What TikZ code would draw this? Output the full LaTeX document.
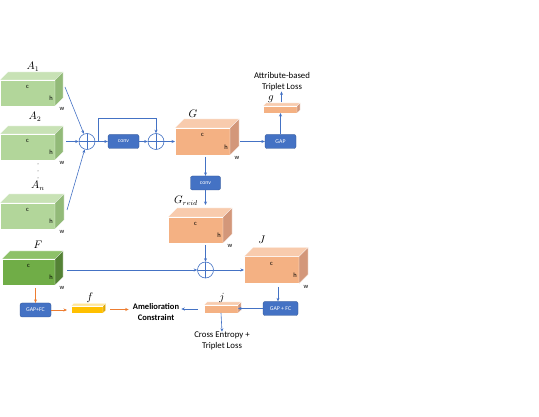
\documentclass[tikz,border=0pt]{standalone}
\usepackage{fontspec}
\setmainfont{Carlito}
\usetikzlibrary{arrows.meta}
\definecolor{blu}{HTML}{4472C4}
\definecolor{bluD}{HTML}{2F528F}
\definecolor{org}{HTML}{ED7D31}
\definecolor{grF}{HTML}{B2D69A}
\definecolor{grT}{HTML}{C8E2B5}
\definecolor{grS}{HTML}{92BA78}
\definecolor{dgF}{HTML}{70AD47}
\definecolor{dgT}{HTML}{8DC168}
\definecolor{dgS}{HTML}{548235}
\definecolor{orF}{HTML}{F4B183}
\definecolor{orT}{HTML}{F8CBAD}
\definecolor{orS}{HTML}{D3977A}
\definecolor{yeF}{HTML}{FFC000}
\definecolor{yeT}{HTML}{FFE699}
\definecolor{yeS}{HTML}{E0A800}
\newcommand{\cuboid}[7]{%
  \node[face, fill=#7F, minimum width=#4pt, minimum height=#5pt] (#1) at (#2,#3) {};
  \filldraw[fill=#7T, draw=white, line width=0.3pt] (#1.north west) -- ++(#6,-#6) -- ++(#4,0) -- (#1.north east) -- cycle;
  \filldraw[fill=#7S, draw=white, line width=0.3pt] (#1.north east) -- ++(#6,-#6) -- ++(0,#5) -- (#1.south east) -- cycle;
}
\newcommand{\chw}[1]{%
  \node[dim] (#1c) at ([yshift=-7pt]#1.north) {c};
  \node[dim] (#1h) at ([xshift=-4pt,yshift=8pt]#1.south east) {h};
  \node[dim] (#1w) at ([xshift=7pt,yshift=-3pt]#1.south east) {w};
}
\tikzset{
  face/.style={inner sep=0pt, outer sep=0pt, anchor=north west, draw=white, line width=0.3pt},
  dim/.style={font=\fontsize{6.5}{7}\selectfont, inner sep=0pt},
  lbl/.style={font=\fontsize{10.5}{12}\selectfont, inner sep=0pt},
  bbox/.style={fill=blu, draw=bluD, line width=0.3pt, rounded corners=2pt, text=white,
    font=\fontsize{5.8}{6}\selectfont, inner sep=0pt, minimum height=14pt},
  oplus/.style={circle, draw=blu, fill=white, line width=0.6pt, minimum size=16pt, inner sep=0pt,
    path picture={\draw[blu, line width=0.6pt] (path picture bounding box.north) -- (path picture bounding box.south)
      (path picture bounding box.west) -- (path picture bounding box.east);}},
  arr/.style={draw=blu, line width=0.6pt, -{Stealth[length=3.5pt,width=3pt]}},
  oarr/.style={draw=org, line width=0.6pt, -{Stealth[length=3.5pt,width=3pt]}},
  txt/.style={font=\fontsize{8.8}{11}\selectfont, align=center, inner sep=0pt},
}
\begin{document}
\begin{tikzpicture}[x=1pt, y=-1pt]
\useasboundingbox (0,0) rectangle (539,417);
% green inputs
\cuboid{a1}{0}{80}{55}{26}{8}{gr}\chw{a1}
\cuboid{a2}{0}{134}{55}{26}{8}{gr}\chw{a2}
\cuboid{an}{0}{203}{55}{26}{9}{gr}\chw{an}
\cuboid{fb}{2}{259}{53}{26}{8}{dg}\chw{fb}
\node[lbl] (la1) at (33,67) {$A_1$};
\node[lbl] (la2) at (35,117) {$A_2$};
\node[lbl] (lan) at (38,186) {$A_n$};
\node[lbl] (lf) at (38,245) {$F$};
\fill[black!70] (38,164) circle (0.5) (38,171) circle (0.5) (38,178) circle (0.5);
% top branch
\node[oplus] (p1) at (87,141.5) {};
\node[bbox, minimum width=31pt] (conv1) at (123.5,141.5) {conv};
\node[oplus] (p2) at (156,141.5) {};
\cuboid{G}{175}{128}{55}{27}{9}{or}\chw{G}
\node[lbl] (lG) at (193,114) {$G$};
\node[bbox, minimum width=31pt] (gap1) at (280.5,141.5) {GAP};
\cuboid{g}{263}{106}{34}{7}{3}{or}
\node[lbl] (lg) at (271,99) {$g$};
\node[txt] (atl) at (282,82) {Attribute-based\\Triplet Loss};
% middle
\node[bbox, minimum width=30pt] (conv2) at (205.5,183) {conv};
\cuboid{Gr}{168}{217}{55}{26}{9}{or}\chw{Gr}
\node[lbl] (lGr) at (186,201) {$G_{reid}$};
\node[oplus] (p3) at (205.5,270) {};
\cuboid{J}{244}{256.5}{55}{27}{9}{or}\chw{J}
\node[lbl] (lJ) at (262,240) {$J$};
% bottom row
\node[bbox, minimum width=35pt] (gap2) at (280.5,308.5) {GAP + FC};
\cuboid{jb}{204}{305}{34}{8}{3}{or}
\node[lbl] (lj) at (222,298) {$j$};
\node[txt] (ce) at (222,341) {Cross Entropy +\\Triplet Loss};
\node[txt, font=\fontsize{8.5}{11}\bfseries] (amel) at (156,312.5) {Amelioration\\Constraint};
\node[bbox, minimum width=31pt] (gapL) at (35.5,310) {GAP+FC};
\cuboid{fbar}{71}{306}{32}{7}{2.5}{ye}
\node[lbl] (lfb) at (90,298) {$f$};
% coordinates
\coordinate (a1o) at (65,87);
\coordinate (a2o) at (66,141.5);
\coordinate (ano) at (67,210);
\coordinate (skp) at (98,141.5);
\coordinate (skt) at (98,118);
\coordinate (Go) at (240,141.5);
\coordinate (Gb) at (205.5,157);
\coordinate (Gri) at (205.5,205);
\coordinate (Gro) at (205.5,245);
\coordinate (Fo) at (67,270);
\coordinate (Jo) at (278,287);
\coordinate (go) at (281.5,102);
\coordinate (Fb) at (35.5,288);
% connectors
\draw[arr] (a1o) -- (p1);
\draw[arr] (a2o) -- (p1);
\draw[arr] (ano) -- (p1);
\draw[arr] (p1) -- (conv1);
\draw[arr] (skp) -- (skt) -| (p2);
\draw[arr] (conv1) -- (p2);
\draw[arr] (p2) -- (G);
\draw[arr] (Go) -- (gap1);
\draw[arr] (gap1) -- (gap1 |- g.south);
\draw[arr] (go) -- (go |- atl.south);
\draw[arr] (Gb) -- (conv2);
\draw[arr] (conv2) -- (Gri);
\draw[arr] (Gro) -- (p3);
\draw[arr] (Fo) -- (p3);
\draw[arr] (p3) -- (p3 -| J.west);
\draw[arr] (Jo) -- (Jo |- gap2.north);
\draw[arr] (gap2) -- (gap2 -| jb.east);
\draw[arr, shorten <=6pt, shorten >=2pt] (jb.west) -- (jb.west -| amel.east);
\draw[arr] (jb.south) -- (ce.north);
\draw[oarr] (Fb) -- (gapL);
\draw[oarr, shorten >=4pt] (gapL) -- (gapL -| fbar.west);
\draw[oarr, shorten <=7pt, shorten >=4pt] (fbar.east) -- (fbar.east -| amel.west);
\end{tikzpicture}
\end{document}
